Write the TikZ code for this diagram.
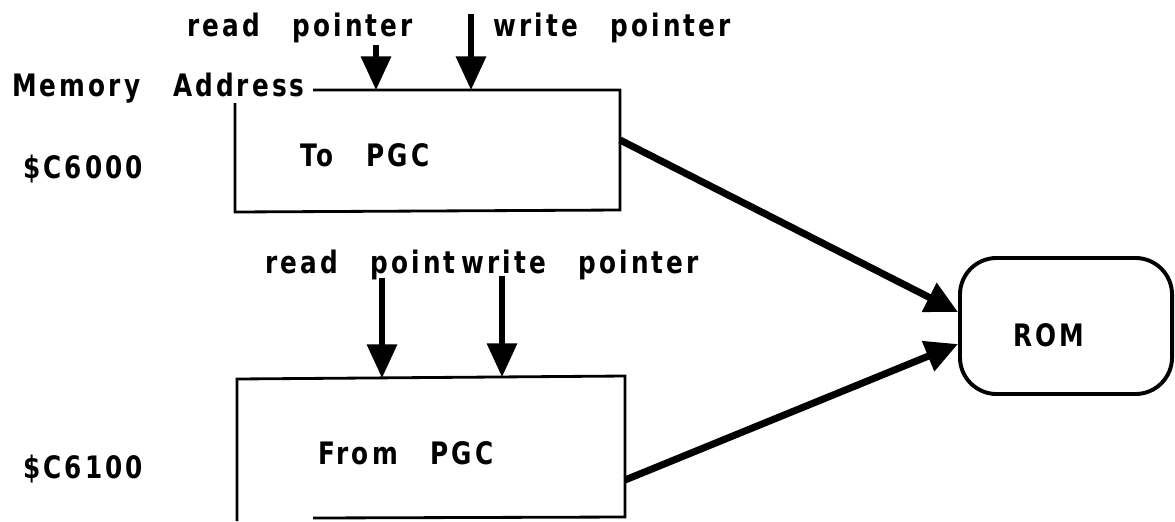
\documentclass[tikz,border=0pt]{standalone}
\usepackage{fontspec}
\usetikzlibrary{arrows.meta,calc}
\newfontfamily\plotter[FakeStretch=0.8,LetterSpace=10,WordSpace=2.8]{DejaVu Sans Bold}

\begin{document}
\begin{tikzpicture}[x=0.025cm,y=-0.025cm,
    boxline/.style={line width=2pt},
    ptr/.style={line width=3.6pt,-{Triangle[length=24pt,width=21pt]}},
    feed/.style={line width=5pt,-{Triangle[length=23pt,width=22pt]}},
    lbl/.style={font=\plotter\fontsize{22}{26}\selectfont,inner sep=0pt}]
			\useasboundingbox (0,0) rectangle (1175,521);
			%%%%% START %%%%%
			% labels
			\node[lbl,anchor=west] (memaddr) at (12,88) {Memory Address};
			\node[lbl,anchor=west] (addra) at (23,169) {\$C6000};
			\node[lbl,anchor=west] (addrb) at (23,469) {\$C6100};
			\node[lbl,anchor=west] (rdtop) at (187,28) {read pointer};
			\node[lbl,anchor=west] (wrtop) at (493,28) {write pointer};
			\node[lbl,anchor=west] (rdbot) at (265,265) {read point};
			\node[lbl,anchor=west] (wrbot) at (461,265) {write pointer};
			
			% buffer to the PGC
			\draw[boxline] (313,90) -- (620,90) -- (620,210) -- (235,212) -- (235,103);
			\node[lbl,anchor=west] (topgc) at (300,155) {To PGC};
			\coordinate (rdtail1) at (376,45);
			\coordinate (rdtip1) at (376,90);
			\coordinate (wrtail1) at (471,14);
			\coordinate (wrtip1) at (471,90);
			\draw[ptr] (rdtail1) -- (rdtip1);
			\draw[ptr] (wrtail1) -- (wrtip1);
			
			% buffer from the PGC
			\draw[boxline] (237,521) -- (237,379) -- (625,376) -- (625,517) -- (313,518);
			\node[lbl,anchor=west] (frompgc) at (318,453) {From PGC};
			\coordinate (rdtail2) at (382,278);
			\coordinate (rdtip2) at (382,378);
			\coordinate (wrtail2) at (502,276);
			\coordinate (wrtip2) at (502,377);
			\draw[ptr] (rdtail2) -- (rdtip2);
			\draw[ptr] (wrtail2) -- (wrtip2);
			
			% rom
			\node[draw,line width=2.8pt,rounded corners=26pt,minimum width=5.3cm,minimum height=3.4cm] (rom) at (1066,326) {};
			\node[lbl] (romtxt) at (1049,335) {ROM};
			\coordinate (outa) at (620,140);
			\coordinate (outb) at (625,480);
			\draw[feed] (outa) -- ($(rom.west)+(0,-14)$);
			\draw[feed] (outb) -- ($(rom.west)+(0,18)$);
			%%%%% END %%%%%
		\end{tikzpicture}
\end{document}
